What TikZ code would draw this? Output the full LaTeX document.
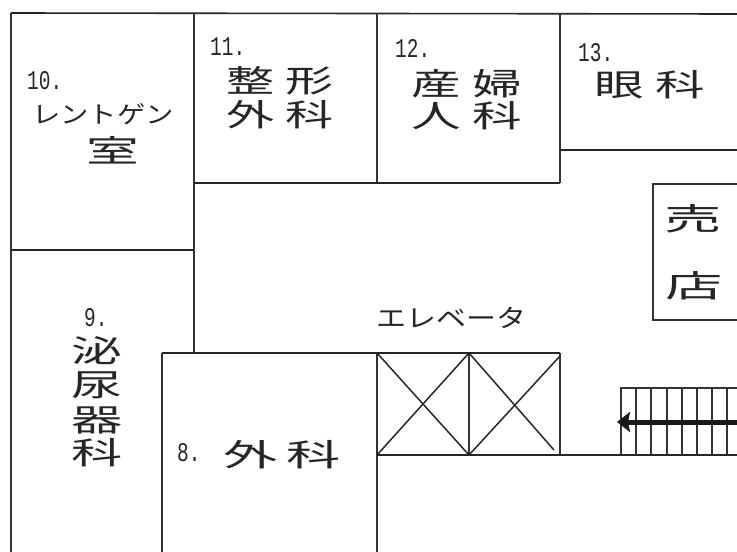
\documentclass[tikz,border=0pt]{standalone}
\usepackage{graphicx}
\usepackage{fontspec}
\setmainfont{Noto Sans CJK JP}[Scale=1]
\newfontfamily\numfont{Liberation Mono}
\usetikzlibrary{arrows.meta}
\newcommand{\wid}[2]{\scalebox{#1}[1]{#2}}
\tikzset{
  wall/.style={line width=1.6pt,draw=black!85},
  thin wall/.style={line width=1.2pt,draw=black!80},
  cross/.style={line width=1.5pt,draw=black!85},
  num/.style={font=\numfont\fontsize{27}{27}\selectfont,inner sep=0pt,anchor=west,text=black!85},
  big/.style={font=\fontsize{31}{31}\selectfont,inner sep=0pt,text=black!85},
  mid/.style={font=\fontsize{25}{25}\selectfont,inner sep=0pt,text=black!85},
  small/.style={font=\fontsize{24}{24}\selectfont,inner sep=0pt,text=black!85},
}
\begin{document}
\begin{tikzpicture}[x=1pt,y=-1pt]
\useasboundingbox (0,0) rectangle (737,552);
% outer walls
\draw[wall] (737,14) -- (11,13);
\draw[thin wall] (11,13) -- (11,552);
\draw[thin wall] (194,13) -- (194,353);
\draw[thin wall] (377,13) -- (377,183);
\draw[thin wall] (560,14) -- (560,183);
\draw[wall] (194,183) -- (560,183);
\draw[wall] (560,150) -- (737,150);
\draw[wall] (11,250) -- (194,250);
\draw[wall] (162,353) -- (560,353);
\draw[thin wall] (162,353) -- (162,552);
\draw[thin wall] (377,353) -- (377,552);
\draw[wall] (377,455) -- (737,455);
% elevators
\draw[thin wall] (469,353) -- (469,455);
\draw[thin wall] (560,353) -- (560,455);
\draw[cross] (377,353) -- (469,455);
\draw[cross] (377,455) -- (469,353);
\draw[cross] (469,353) -- (554,450);
\draw[cross] (469,455) -- (560,356);
% shop
\draw[thin wall] (737,184) -- (653,184) -- (653,320) -- (737,320);
% stairs
\draw[thin wall] (737,388) -- (621,388) -- (621,455);
\foreach \x/\w in {636/1.5,651/1.2,667/2,682/1.3,697/1.8,712/1.3,727/1.7}
  \draw[line width=\w pt,draw=black!80] (\x,388) -- (\x,455);
\coordinate (stairEnd) at (737,422);
\coordinate (stairTip) at (617,422);
\draw[line width=5pt,-{Stealth[length=13pt,width=20pt,inset=2pt]},draw=black!90] (stairEnd) -- (stairTip);
% labels
\node[num] (n10) at (27,81) {\wid{.72}{10.}};
\node[small] (r10) at (103,114) {\wid{1.18}{レントゲン}};
\node[big] (s10) at (113,150) {\wid{1.7}{室}};
\node[num] (n11) at (210,47) {\wid{.72}{11.}};
\node[big] (a11) at (280,81) {\wid{1.55}{整\hspace{7pt}形}};
\node[big] (b11) at (280,115) {\wid{1.55}{外\hspace{7pt}科}};
\node[num] (n12) at (395,48) {\wid{.72}{12.}};
\node[big] (a12) at (467,84) {\wid{1.6}{産\hspace{7pt}婦}};
\node[big] (b12) at (467,116) {\wid{1.6}{人\hspace{7pt}科}};
\node[num] (n13) at (578,53) {\wid{.72}{13.}};
\node[big] (a13) at (650,85) {\wid{1.6}{眼\hspace{7pt}科}};
\node[big] (c1) at (693,219) {\wid{1.85}{売}};
\node[big] (c2) at (694,286) {\wid{1.85}{店}};
\node[mid] (ev) at (451,318) {\wid{1.2}{エレベータ}};
\node[num] (n9) at (84,318) {\wid{.72}{9.}};
\node[big] (u1) at (97,351) {\wid{1.65}{泌}};
\node[big] (u2) at (97,385) {\wid{1.65}{尿}};
\node[big] (u3) at (97,420) {\wid{1.65}{器}};
\node[big] (u4) at (97,453) {\wid{1.65}{科}};
\node[num] (n8) at (177,453) {\wid{.72}{8.}};
\node[big] (g8) at (282,455) {\wid{1.75}{外\hspace{5pt}科}};
\end{tikzpicture}
\end{document}
